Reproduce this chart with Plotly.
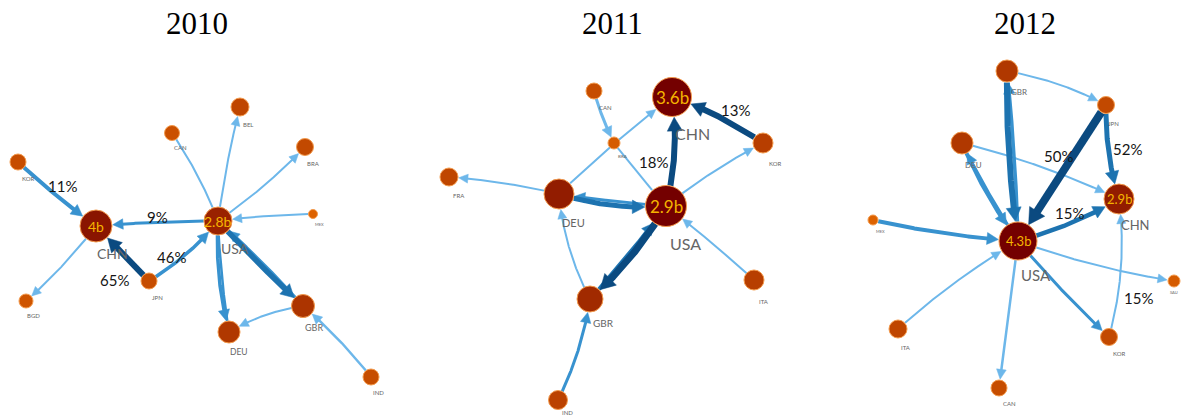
import numpy as np
import plotly.graph_objects as go

W, H = 1186, 419

# ---------------- data ----------------
years = ["2010", "2011", "2012"]

# 2010 network
n10_name = ["CHN", "USA", "KOR", "BGD", "JPN", "CAN", "BEL", "BRA", "MEX", "GBR", "DEU", "IND"]
n10_x = [96, 218, 18, 26, 149, 172, 240, 305, 313, 303, 229, 371]
n10_y = [226, 221, 162, 301, 281, 133, 107, 147, 214, 306, 332, 377]
n10_r = [16, 14, 8, 7, 8, 7.5, 9, 8.5, 4.5, 11.5, 11, 8]
n10_val = ["4b", "2.8b", "", "", "", "", "", "", "", "", "", ""]
e10_src = ["KOR", "USA", "CHN", "JPN", "JPN", "CAN", "USA", "USA", "MEX", "USA", "GBR", "USA", "DEU", "GBR", "IND"]
e10_tgt = ["CHN", "CHN", "BGD", "CHN", "USA", "USA", "BEL", "BRA", "USA", "GBR", "USA", "DEU", "USA", "DEU", "GBR"]
e10_w = [4, 3, 2, 6, 3.5, 2, 2, 2, 2, 5.5, 3, 3.5, 2.5, 2, 2.5]
e10_lvl = [1, 1, 0, 3, 1, 0, 0, 0, 0, 2, 1, 1, 1, 0, 0]
e10_pct = ["11%", "9%", "", "65%", "46%", "", "", "", "", "", "", "", "", "", ""]

# 2011 network
n11_name = ["CHN", "USA", "DEU", "GBR", "KOR", "ITA", "IND", "FRA", "CAN", "BRA"]
n11_x = [672, 666, 559, 590, 763, 754, 558, 449, 594, 614]
n11_y = [97, 206, 194, 299, 143, 280, 400, 177, 91, 143]
n11_r = [19.5, 20.5, 15, 13, 10, 10, 9.5, 9, 8, 6]
n11_val = ["3.6b", "2.9b", "", "", "", "", "", "", "", ""]
e11_src = ["KOR", "USA", "USA", "DEU", "CAN", "BRA", "DEU", "DEU", "USA", "USA", "GBR", "GBR", "IND", "ITA"]
e11_tgt = ["CHN", "CHN", "KOR", "CHN", "BRA", "USA", "FRA", "USA", "DEU", "GBR", "USA", "DEU", "GBR", "USA"]
e11_w = [6, 6, 2, 2, 3, 2, 2, 5, 3, 7, 4, 2, 3, 2]
e11_lvl = [3, 3, 0, 0, 0, 0, 0, 2, 1, 3, 2, 0, 1, 0]
e11_pct = ["13%", "18%", "", "", "", "", "", "", "", "", "", "", "", ""]

# 2012 network
n12_name = ["USA", "CHN", "GBR", "JPN", "DEU", "MEX", "ITA", "CAN", "KOR", "SAU"]
n12_x = [1018, 1119, 1007, 1106, 962, 873, 898, 999, 1109, 1174]
n12_y = [241, 199, 71, 105, 143, 220, 329, 388, 337, 281]
n12_r = [19, 15, 11, 8.5, 11, 5, 9, 8, 8.5, 6]
n12_val = ["4.3b", "2.9b", "", "", "", "", "", "", "", ""]
e12_src = ["GBR", "USA", "GBR", "JPN", "JPN", "DEU", "DEU", "USA", "USA", "MEX", "ITA", "USA", "USA", "USA", "KOR"]
e12_tgt = ["USA", "GBR", "JPN", "USA", "CHN", "CHN", "USA", "DEU", "CHN", "USA", "USA", "CAN", "SAU", "KOR", "CHN"]
e12_w = [6, 3.5, 2, 8, 5, 2, 4, 3, 4.5, 4, 2, 2.5, 2, 3, 2]
e12_lvl = [2, 1, 0, 3, 2, 0, 1, 1, 2, 1, 0, 0, 0, 1, 0]
e12_pct = ["", "", "", "50%", "52%", "", "", "", "15%", "", "", "", "", "", "15%"]

# ---------------- style ----------------
title_x = [197, 612, 1025]
edge_colors = ["#6db7ea", "#3892cf", "#1d73b0", "#0b4a80"]

panels = [
    dict(name=n10_name, x=n10_x, y=n10_y, r=n10_r, val=n10_val,
         src=e10_src, tgt=e10_tgt, w=e10_w, lvl=e10_lvl, pct=e10_pct,
         curv=[0.03, 0.02, -0.05, 0, 0.09, -0.06, -0.03, 0.05, 0.03, 0.02, 0.03, 0.08, -0.03, 0.1, 0.05],
         arrow=[1, 1, 1, 1, 1, 0, 1, 1, 1, 1, 1, 1, 0, 1, 1],
         pct_off=[(5, -8), (0, -7), None, (-8, 26), (-12, 6)],
         lab_off={"CHN": (16, 27), "USA": (17, 27), "KOR": (10, 16), "BGD": (7, 14), "JPN": (8, 16),
                  "CAN": (8, 14), "BEL": (8, 17), "BRA": (8, 16), "MEX": (6, 10), "GBR": (11, 21),
                  "DEU": (10, 20), "IND": (7, 15)},
         lab_fs={"CHN": 14, "USA": 14, "GBR": 9, "DEU": 8.5, "MEX": 4, "JPN": 6},
         val_fs=14),
    dict(name=n11_name, x=n11_x, y=n11_y, r=n11_r, val=n11_val,
         src=e11_src, tgt=e11_tgt, w=e11_w, lvl=e11_lvl, pct=e11_pct,
         curv=[0.07, 0.1, -0.05, -0.03, 0.05, 0.02, 0.04, 0.1, -0.02, -0.08, 0.03, -0.1, 0.08, 0.02],
         arrow=[1, 1, 1, 1, 1, 0, 1, 1, 1, 1, 1, 1, 1, 1],
         pct_off=[(18, -10), (-16, 10)],
         lab_off={"CHN": (20, 36), "USA": (19, 37), "DEU": (14, 28), "GBR": (13, 24), "KOR": (12, 20),
                  "ITA": (10, 21), "FRA": (10, 18), "CAN": (11, 16), "BRA": (9, 13), "IND": (9, 12)},
         lab_fs={"CHN": 16, "USA": 16, "DEU": 11, "GBR": 10, "BRA": 4.5},
         val_fs=17),
    dict(name=n12_name, x=n12_x, y=n12_y, r=n12_r, val=n12_val,
         src=e12_src, tgt=e12_tgt, w=e12_w, lvl=e12_lvl, pct=e12_pct,
         curv=[0.04, 0.02, -0.08, 0, 0.08, -0.05, 0.06, -0.03, 0.07, 0.04, -0.05, 0, 0.05, 0.03, 0.1],
         arrow=[1, 1, 1, 1, 1, 1, 1, 1, 1, 1, 1, 1, 1, 1, 1],
         pct_off=[None, None, None, (-4, -17), (15, -3), None, None, None, (1, -7),
                  None, None, None, None, None, (24, 30)],
         lab_off={"USA": (18, 34), "CHN": (16, 26), "GBR": (12, 21), "JPN": (7, 18), "DEU": (11, 22),
                  "MEX": (7, 11), "ITA": (8, 18), "CAN": (10, 15), "KOR": (10, 16), "SAU": (0, 11)},
         lab_fs={"USA": 15, "CHN": 13, "GBR": 8, "DEU": 8, "MEX": 4, "SAU": 4, "JPN": 6},
         val_fs=13),
]


def node_color(r):
    t = float(np.clip((r - 5) / 14.0, 0, 1))
    c0 = np.array([0xdd, 0x62, 0x00])
    c1 = np.array([0x74, 0x00, 0x00])
    c = (1 - t) * c0 + t * c1
    return "rgb(%d,%d,%d)" % tuple(c)


def bezier(p0, p1, curv, n=300):
    d = p1 - p0
    L = np.hypot(*d)
    perp = np.array([-d[1], d[0]]) / L
    c = (p0 + p1) / 2 + curv * L * perp
    t = np.linspace(0, 1, n)[:, None]
    return (1 - t) ** 2 * p0 + 2 * (1 - t) * t * c + t ** 2 * p1


fig = go.Figure()
annotations = []

for pi, P in enumerate(panels):
    pos = {n: np.array([x, y], float) for n, x, y in zip(P["name"], P["x"], P["y"])}
    rad = {n: r for n, r in zip(P["name"], P["r"])}
    order = sorted(range(len(P["src"])), key=lambda i: (P["lvl"][i], P["w"][i]))
    for i in order:
        s, t_ = P["src"][i], P["tgt"][i]
        p0, p1 = pos[s], pos[t_]
        pts = bezier(p0, p1, P["curv"][i])
        w = P["w"][i]
        col = edge_colors[P["lvl"][i]]
        ds = np.hypot(*(pts - p0).T)
        dt = np.hypot(*(pts - p1).T)
        i0 = np.argmax(ds > rad[s])
        tip_idx = len(pts) - 1 - np.argmax(dt[::-1] > rad[t_] + 0.5)
        seg = pts[i0:tip_idx + 1]
        if P["arrow"][i]:
            Lh = 7 + 1.1 * w
            hw = 3 + 0.75 * w
            tip = pts[tip_idx]
            dd = np.hypot(*(seg - tip).T)
            bidx = np.argmax(dd[::-1] > Lh)
            bidx = len(seg) - 1 - bidx
            base = seg[bidx]
            u = (tip - base) / np.hypot(*(tip - base))
            pp = np.array([-u[1], u[0]])
            b = tip - u * Lh
            tri = np.array([tip, b + pp * hw, b - pp * hw, tip])
            line = np.vstack([seg[:bidx + 1], b + u * 1.5])
            fig.add_trace(go.Scatter(x=line[:, 0], y=line[:, 1], mode="lines",
                                     line=dict(color=col, width=w), hoverinfo="skip", showlegend=False))
            fig.add_trace(go.Scatter(x=tri[:, 0], y=tri[:, 1], mode="lines", fill="toself",
                                     fillcolor=col, line=dict(color=col, width=0.5),
                                     hoverinfo="skip", showlegend=False))
        else:
            fig.add_trace(go.Scatter(x=seg[:, 0], y=seg[:, 1], mode="lines",
                                     line=dict(color=col, width=w), hoverinfo="skip", showlegend=False))
        # percentage label
        if P["pct"][i]:
            off = P["pct_off"][i]
            m = (p0 + p1) / 2
            annotations.append(dict(x=m[0] + off[0], y=m[1] + off[1], text=P["pct"][i],
                                    showarrow=False, xref="x", yref="y",
                                    font=dict(family="Lato", size=15, color="#151515")))
    # nodes
    fig.add_trace(go.Scatter(
        x=P["x"], y=P["y"], mode="markers", opacity=1,
        marker=dict(size=[2 * r for r in P["r"]], color=[node_color(r) for r in P["r"]],
                    opacity=1, line=dict(color="#f39a4c", width=1)),
        hoverinfo="skip", showlegend=False))
    # value labels
    for n, v in zip(P["name"], P["val"]):
        if v:
            annotations.append(dict(x=pos[n][0], y=pos[n][1], text=v, showarrow=False,
                                    xref="x", yref="y",
                                    font=dict(family="Lato", size=P["val_fs"], color="#f5b400")))
    # node name labels
    for n in P["name"]:
        off = P["lab_off"][n]
        fs = P["lab_fs"].get(n, 6)
        annotations.append(dict(x=pos[n][0] + off[0], y=pos[n][1] + off[1], text=n, showarrow=False,
                                xref="x", yref="y",
                                font=dict(family="Lato", size=fs, color="#666666")))
    annotations.append(dict(x=title_x[pi], y=23, text=years[pi], showarrow=False, xref="x", yref="y",
                            font=dict(family="Liberation Serif", size=31, color="#000000")))

fig.update_layout(
    width=W, height=H, margin=dict(l=0, r=0, t=0, b=0),
    paper_bgcolor="white", plot_bgcolor="white",
    xaxis=dict(range=[0, W], visible=False, fixedrange=True),
    yaxis=dict(range=[H, 0], visible=False, fixedrange=True),
    annotations=annotations,
    hovermode=False,
)
fig.write_html("out.html", config={"displayModeBar": False, "staticPlot": True},
               post_script="document.body.style.margin='0px';document.body.style.overflow='hidden';")
